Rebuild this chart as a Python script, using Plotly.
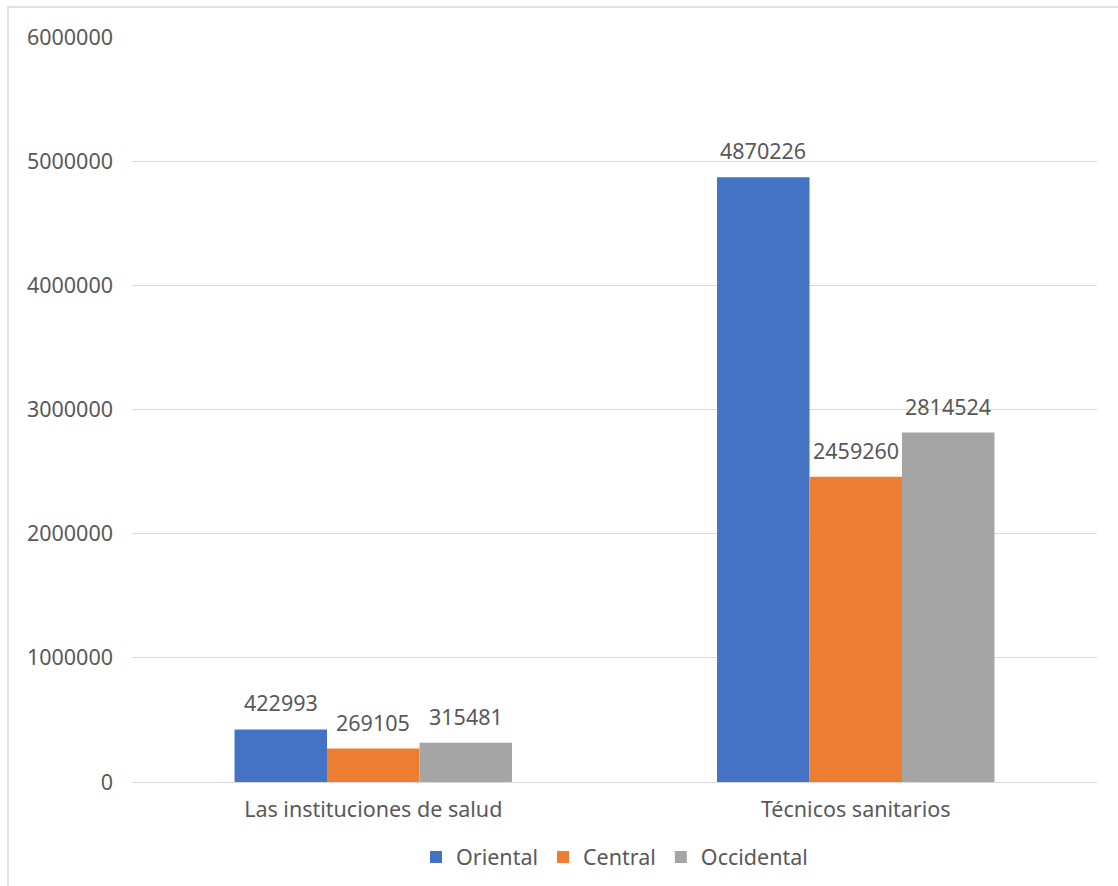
import plotly.graph_objects as go

categories = ["Las instituciones de salud", "Técnicos sanitarios"]
series_names = ["Oriental", "Central", "Occidental"]
oriental = [422993, 4870226]
central = [269105, 2459260]
occidental = [315481, 2814524]
colors = ["#4472C4", "#ED7D31", "#A5A5A5"]
y_ticks = [0, 1000000, 2000000, 3000000, 4000000, 5000000, 6000000]

FONT = "Noto Sans, Lato, sans-serif"
TXT = "#595959"
FS = 21.5

W, H = 1118, 886
l, r, t, b = 132, 21, 37, 104
pw, ph = W - l - r, H - t - b
BARGAP = 0.425

fig = go.Figure()
n = len(series_names)
bw = (1 - BARGAP) / n
annotations = []
for k, (name, vals, col) in enumerate(zip(series_names, [oriental, central, occidental], colors)):
    fig.add_trace(go.Bar(
        x=list(range(len(categories))), y=vals, name=name,
        marker=dict(color=col, line=dict(width=0)),
    ))
    off = (k - (n - 1) / 2) * bw
    for i, v in enumerate(vals):
        annotations.append(dict(x=i + off, y=v, xref="x", yref="y", text=str(v),
                                showarrow=False, yanchor="bottom", yshift=10,
                                font=dict(size=FS, color=TXT, family=FONT)))

fig.update_layout(
    width=W, height=H,
    margin=dict(l=l, r=r, t=t, b=b, autoexpand=False),
    paper_bgcolor="white", plot_bgcolor="white",
    barmode="group", bargap=BARGAP, bargroupgap=0,
    font=dict(family=FONT, size=FS, color=TXT),
    showlegend=True,
    legend=dict(orientation="h", x=0.5, xanchor="center", y=(t + ph - 857) / ph, yanchor="middle",
                font=dict(size=FS, color=TXT, family=FONT), itemwidth=30,
                traceorder="normal"),
    xaxis=dict(showline=True, linecolor="#d9d9d9", linewidth=1, ticks="",
               tickvals=list(range(len(categories))), ticktext=categories,
               range=[-0.5, len(categories) - 0.5], automargin=False,
               tickfont=dict(size=FS, color=TXT), ticklabelstandoff=8),
    yaxis=dict(range=[0, 6000000], tickvals=y_ticks, ticktext=[str(v) for v in y_ticks],
               showgrid=True, gridcolor="#d9d9d9", gridwidth=1, zeroline=False,
               showline=False, ticks="", ticklabelstandoff=18, automargin=False,
               tickfont=dict(size=FS, color=TXT)),
    annotations=annotations,
    shapes=[dict(type="rect", xref="paper", yref="paper",
                 x0=(8 - l) / pw, x1=(W + 5 - l) / pw,
                 y0=(t + ph - (H + 5)) / ph, y1=(t + ph - 7) / ph,
                 line=dict(color="#d9d9d9", width=1.5), fillcolor="rgba(0,0,0,0)",
                 layer="below")],
)

fig.write_html("out.html")
